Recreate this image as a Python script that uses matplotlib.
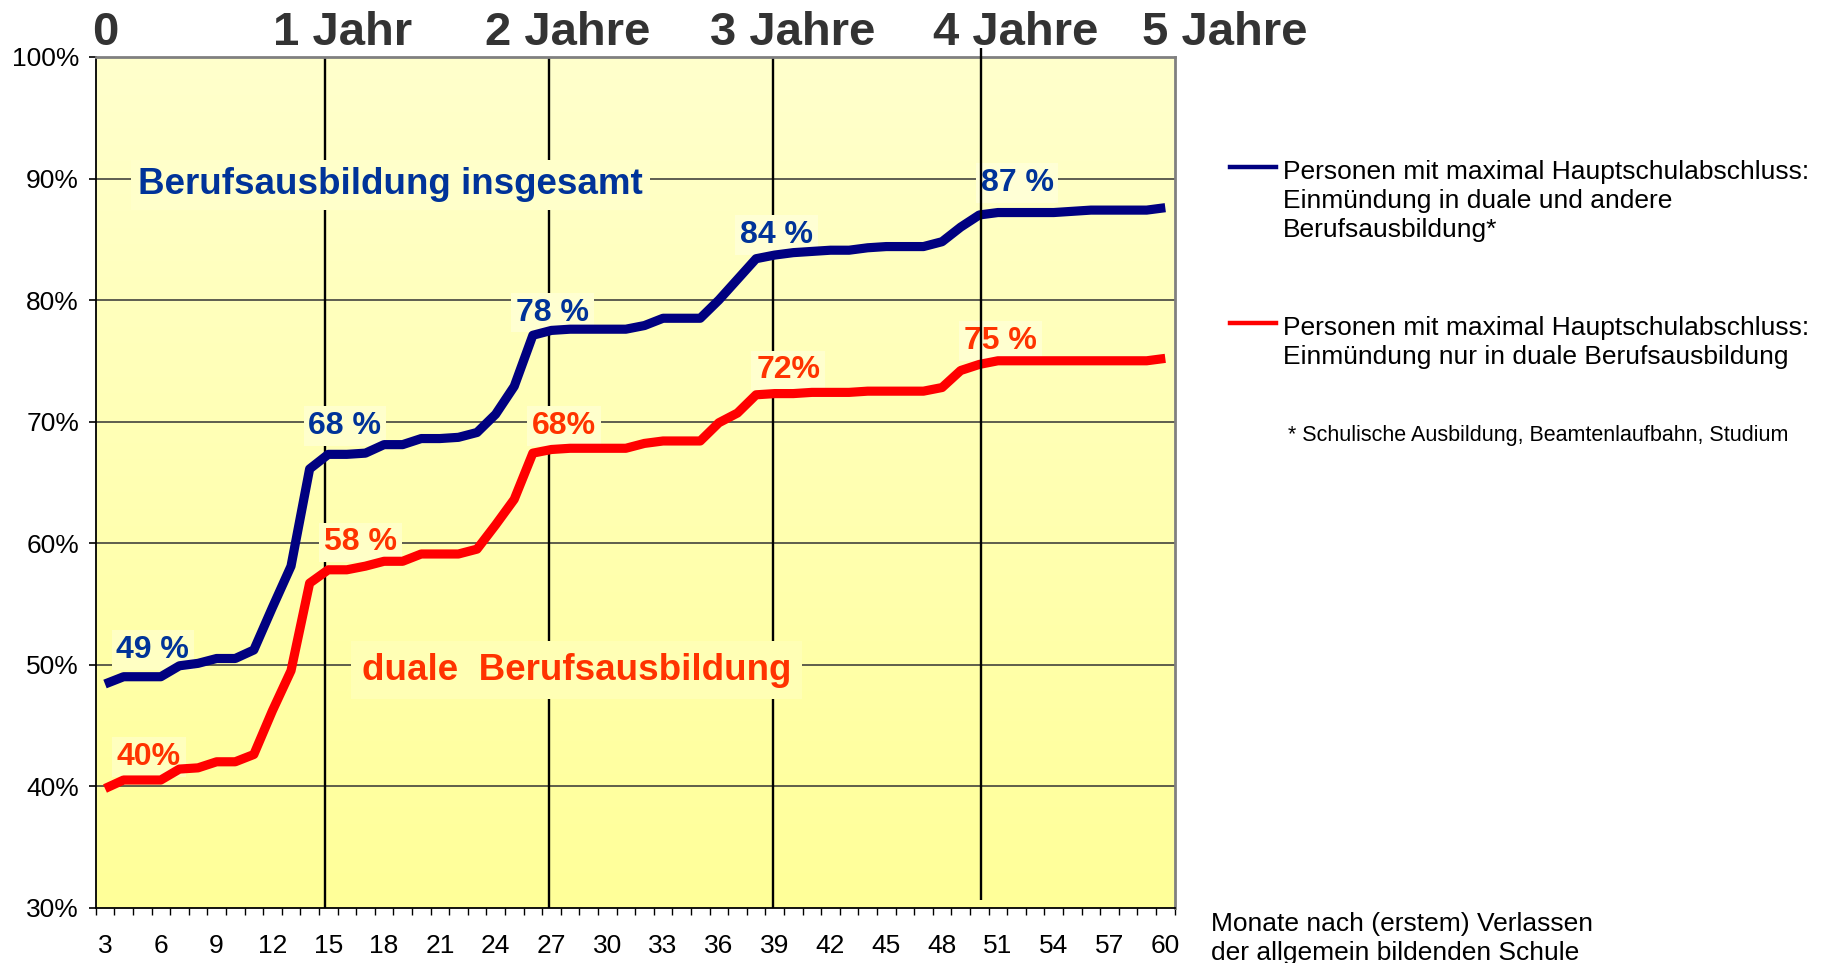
import numpy as np
import matplotlib
matplotlib.use('Agg')
import matplotlib.pyplot as plt
from matplotlib.lines import Line2D
from matplotlib.colors import LinearSegmentedColormap, to_rgb
from matplotlib.transforms import blended_transform_factory

plt.rcParams['font.family'] = ['Liberation Sans', 'DejaVu Sans']

# ---------------- data ----------------
months = list(range(3, 61))
insgesamt = [48.4, 49.0, 49.0, 49.0, 49.9, 50.1, 50.5, 50.5, 51.2, 54.7,
             58.1, 66.1, 67.3, 67.3, 67.4, 68.1, 68.1, 68.6, 68.6, 68.7,
             69.1, 70.6, 72.9, 77.1, 77.5, 77.6, 77.6, 77.6, 77.6, 77.9,
             78.5, 78.5, 78.5, 80.0, 81.7, 83.4, 83.7, 83.9, 84.0, 84.1,
             84.1, 84.3, 84.4, 84.4, 84.4, 84.8, 86.0, 87.0, 87.2, 87.2,
             87.2, 87.2, 87.3, 87.4, 87.4, 87.4, 87.4, 87.6]
dual = [39.8, 40.5, 40.5, 40.5, 41.4, 41.5, 42.0, 42.0, 42.6, 46.2,
        49.5, 56.7, 57.8, 57.8, 58.1, 58.5, 58.5, 59.1, 59.1, 59.1,
        59.5, 61.5, 63.6, 67.4, 67.7, 67.8, 67.8, 67.8, 67.8, 68.2,
        68.4, 68.4, 68.4, 69.9, 70.7, 72.2, 72.3, 72.3, 72.4, 72.4,
        72.4, 72.5, 72.5, 72.5, 72.5, 72.8, 74.2, 74.7, 75.0, 75.0,
        75.0, 75.0, 75.0, 75.0, 75.0, 75.0, 75.0, 75.2]

xtick_months = list(range(3, 61, 3))
yticks = [30, 40, 50, 60, 70, 80, 90, 100]
ytick_labels = [f"{v}%" for v in yticks]

year_labels = ['0', '1 Jahr', '2 Jahre', '3 Jahre', '4 Jahre', '5 Jahre']
year_label_x = [3.0, 15.75, 27.9, 39.95, 51.95, 63.2]
year_lines = [14.85, 26.85, 38.9]
year4_line = 50.1

blue_labels = ['49 %', '68 %', '78 %', '84 %', '87 %']
blue_label_x = [5.57, 15.9, 27.07, 39.1, 52.03]
blue_label_y = [51.5, 69.9, 79.25, 85.65, 89.9]
red_labels = ['40%', '58 %', '68%', '72%', '75 %']
red_label_x = [5.35, 16.75, 27.69, 39.73, 51.15]
red_label_y = [42.7, 60.35, 69.9, 74.5, 76.9]

title_blue = 'Berufsausbildung insgesamt'
title_blue_pos = (18.36, 89.8)
title_red = 'duale  Berufsausbildung'
title_red_pos = (28.36, 49.88)

legend_blue = ['Personen mit maximal Hauptschulabschluss:',
               'Einmündung in duale und andere',
               'Berufsausbildung*']
legend_red = ['Personen mit maximal Hauptschulabschluss:',
              'Einmündung nur in duale Berufsausbildung']
footnote = '* Schulische Ausbildung, Beamtenlaufbahn, Studium'
xlabel_lines = ['Monate nach (erstem) Verlassen',
                'der allgemein bildenden Schule']

# ---------------- style ----------------
BLUE_LINE = '#000080'
RED_LINE = '#FF0000'
BLUE_TXT = '#003399'
RED_TXT = '#FF3300'
BG_TOP = '#FFFFCC'
BG_BOT = '#FFFF99'

W, H = 1829, 963
fig = plt.figure(figsize=(W / 100, H / 100), dpi=100)
ax = fig.add_axes([95.7 / W, 1 - 907.6 / H, (1174.6 - 95.7) / W, (907.6 - 57) / H])

XMIN, XMAX, YMIN, YMAX = 2.5, 60.5, 30, 100

# gradient background
cmap = LinearSegmentedColormap.from_list('bg', [BG_BOT, BG_TOP])
grad = np.linspace(0, 1, 256).reshape(-1, 1)
ax.imshow(grad, extent=[XMIN, XMAX, YMIN, YMAX], origin='lower', aspect='auto',
          cmap=cmap, zorder=0, interpolation='bilinear')


def bg_at(y, lighten=0.0):
    t = (y - YMIN) / (YMAX - YMIN)
    c0 = np.array(to_rgb(BG_BOT))
    c1 = np.array(to_rgb(BG_TOP))
    c = c0 + (c1 - c0) * t
    return tuple(c + (1 - c) * lighten)


ax.set_xlim(XMIN, XMAX)
ax.set_ylim(YMIN, YMAX)

# horizontal grid
for v in yticks[1:-1]:
    ax.axhline(v, color='#333333', lw=1.1, zorder=1)

# year lines
for xv in year_lines:
    ax.axvline(xv, color='black', lw=1.7, zorder=2)
ax.plot([year4_line, year4_line], [30.6, 100.7], color='black', lw=1.7,
        zorder=6, clip_on=False, solid_capstyle='butt')

# data lines (above label boxes)
ax.plot(months, insgesamt, color=BLUE_LINE, lw=6.6, zorder=4.5,
        solid_joinstyle='round', solid_capstyle='butt')
ax.plot(months, dual, color=RED_LINE, lw=6.6, zorder=4.5,
        solid_joinstyle='round', solid_capstyle='butt')

# labels
for s, xv, yv in zip(blue_labels, blue_label_x, blue_label_y):
    ax.text(xv, yv, s, color=BLUE_TXT, fontsize=23, fontweight='bold',
            ha='center', va='center_baseline', zorder=4,
            bbox=dict(boxstyle='square,pad=0.15', fc=bg_at(yv, 0.3), ec='none'))
for s, xv, yv in zip(red_labels, red_label_x, red_label_y):
    ax.text(xv, yv, s, color=RED_TXT, fontsize=23, fontweight='bold',
            ha='center', va='center_baseline', zorder=4,
            bbox=dict(boxstyle='square,pad=0.15', fc=bg_at(yv, 0.3), ec='none'))

ax.text(*title_blue_pos, title_blue, color=BLUE_TXT, fontsize=26.5,
        fontweight='bold', ha='center', va='center_baseline', zorder=4,
        bbox=dict(boxstyle='square,pad=0.2', fc=bg_at(title_blue_pos[1], 0.1), ec='none'))
ax.text(*title_red_pos, title_red, color=RED_TXT, fontsize=26.5,
        fontweight='bold', ha='center', va='center_baseline', zorder=4,
        bbox=dict(boxstyle='square,pad=0.3', fc=bg_at(title_red_pos[1], 0.15), ec='none'))

# axes / ticks
ax.set_yticks(yticks)
ax.set_yticklabels(ytick_labels)
ax.tick_params(axis='y', length=5, width=1.2, pad=7, labelsize=19,
               direction='out', color='black')
ax.set_xticks(np.arange(XMIN, XMAX + 0.01, 1.0))
ax.set_xticklabels([])
ax.set_xticks(xtick_months, minor=True)
ax.set_xticklabels([str(m) for m in xtick_months], minor=True)
ax.tick_params(axis='x', which='major', length=5, width=1.0, direction='out')
ax.tick_params(axis='x', which='minor', length=0, pad=19, labelsize=19)

for side in ['left', 'bottom']:
    ax.spines[side].set_color('black')
    ax.spines[side].set_linewidth(1.3)
for side in ['top', 'right']:
    ax.spines[side].set_color('#808080')
    ax.spines[side].set_linewidth(2)

# year labels on top
tr = blended_transform_factory(ax.transData, fig.transFigure)
for s, xv in zip(year_labels, year_label_x):
    ax.text(xv, 1 - 45 / H, s, transform=tr, fontsize=34, fontweight='bold',
            color='#333333', ha='center', va='baseline', clip_on=False)

# legend
fig.add_artist(Line2D([1230 / W, 1276 / W], [1 - 167 / H] * 2, color=BLUE_LINE,
                      lw=3.2, transform=fig.transFigure))
for i, s in enumerate(legend_blue):
    fig.text(1283 / W, 1 - (170 + 28.5 * i) / H, s, fontsize=19,
             ha='left', va='center_baseline')
fig.add_artist(Line2D([1230 / W, 1276 / W], [1 - 323 / H] * 2, color=RED_LINE,
                      lw=3.2, transform=fig.transFigure))
for i, s in enumerate(legend_red):
    fig.text(1283 / W, 1 - (325 + 29 * i) / H, s, fontsize=19,
             ha='left', va='center_baseline')
fig.text(1288 / W, 1 - 433 / H, footnote, fontsize=15.5,
         ha='left', va='center_baseline')

for i, s in enumerate(xlabel_lines):
    fig.text(1211 / W, 1 - (921 + 29.5 * i) / H, s, fontsize=19,
             ha='left', va='center_baseline')

fig.savefig('out.png', dpi=100, facecolor='white')
